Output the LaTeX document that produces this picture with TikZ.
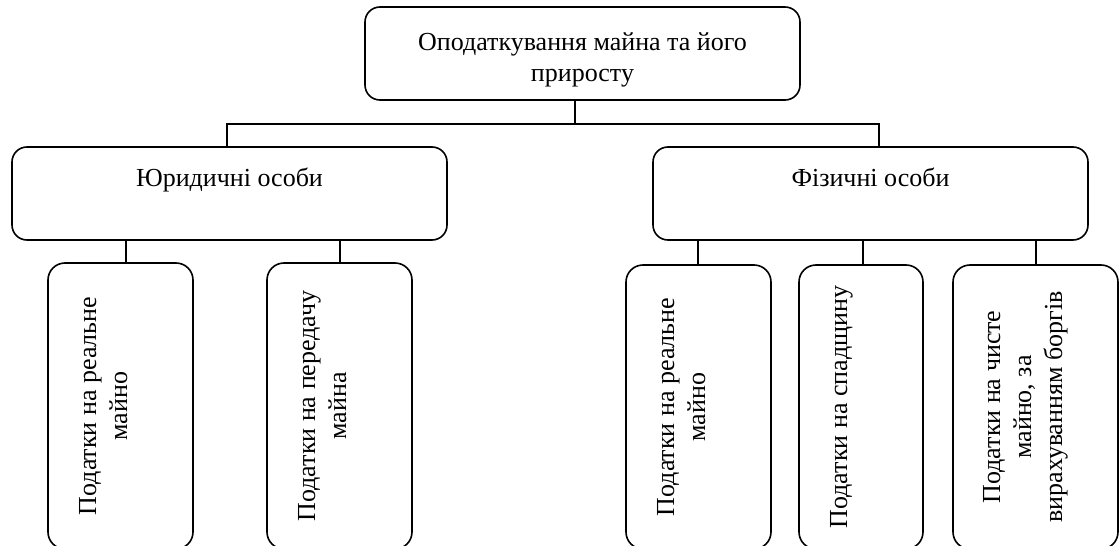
\documentclass[tikz,border=0pt]{standalone}
\usepackage{fontspec}
\setmainfont{Liberation Serif}
\begin{document}
\begin{tikzpicture}[x=1pt,y=-1pt,
  box/.style={draw, line width=1.6pt, rounded corners=15pt, inner sep=0pt,
    align=center, font=\fontsize{26}{31}\selectfont},
  taxbox/.style={box, rotate=90, rounded corners=17pt},
  link/.style={line width=1.6pt}]
\useasboundingbox (0,0) rectangle (1120,546);
\clip (0,0) rectangle (1120,546);

% root (text height runs to the baseline of the last line)
\node[box, minimum width=435pt, minimum height=93pt, text height=74pt, text depth=19pt]
  (root) at (582.5,53.5) {Оподаткування майна та його\\приросту};

% taxpayer groups
\node[box, minimum width=435pt, minimum height=93pt, text height=39pt, text depth=54pt]
  (legal) at (229.5,193.5) {Юридичні особи};
\node[box, minimum width=435pt, minimum height=93pt, text height=39pt, text depth=54pt]
  (natural) at (870.5,193.5) {Фізичні особи};

% taxes (rotated boxes, running past the lower edge)
\node[taxbox, minimum width=286pt, minimum height=145pt, text height=79pt, text depth=66pt]
  (l1) at (120.5,406) {Податки на реальне\\майно};
\node[taxbox, minimum width=286pt, minimum height=145pt, text height=79pt, text depth=66pt]
  (l2) at (339.5,406) {Податки на передачу\\майна};
\node[taxbox, minimum width=284pt, minimum height=145pt, text height=79pt, text depth=66pt]
  (n1) at (698.5,407) {Податки на реальне\\майно};
\node[taxbox, minimum width=284pt, minimum height=124pt, text height=48pt, text depth=76pt]
  (n2) at (861,407) {Податки на спадщину};
\node[taxbox, minimum width=284pt, minimum height=165pt, text height=109pt, text depth=56pt]
  (n3) at (1035.5,407) {Податки на чисте\\майно, за\\вирахуванням боргів};

% bus under the root
\coordinate (busM) at (575,124);
\coordinate (busL) at (227,124);
\coordinate (busR) at (879,124);
\draw[link] (root.south -| busM) -- (busM);
\draw[link] (legal.north -| busL) -- (busL) -- (busR) -- (natural.north -| busR);

% drops to the tax boxes
\coordinate (d1) at (126,0);
\coordinate (d2) at (340,0);
\coordinate (d3) at (698,0);
\coordinate (d4) at (863,0);
\coordinate (d5) at (1036,0);
\draw[link] (legal.south -| d1) -- (l1.east -| d1);
\draw[link] (legal.south -| d2) -- (l2.east -| d2);
\draw[link] (natural.south -| d3) -- (n1.east -| d3);
\draw[link] (natural.south -| d4) -- (n2.east -| d4);
\draw[link] (natural.south -| d5) -- (n3.east -| d5);
\end{tikzpicture}
\end{document}
